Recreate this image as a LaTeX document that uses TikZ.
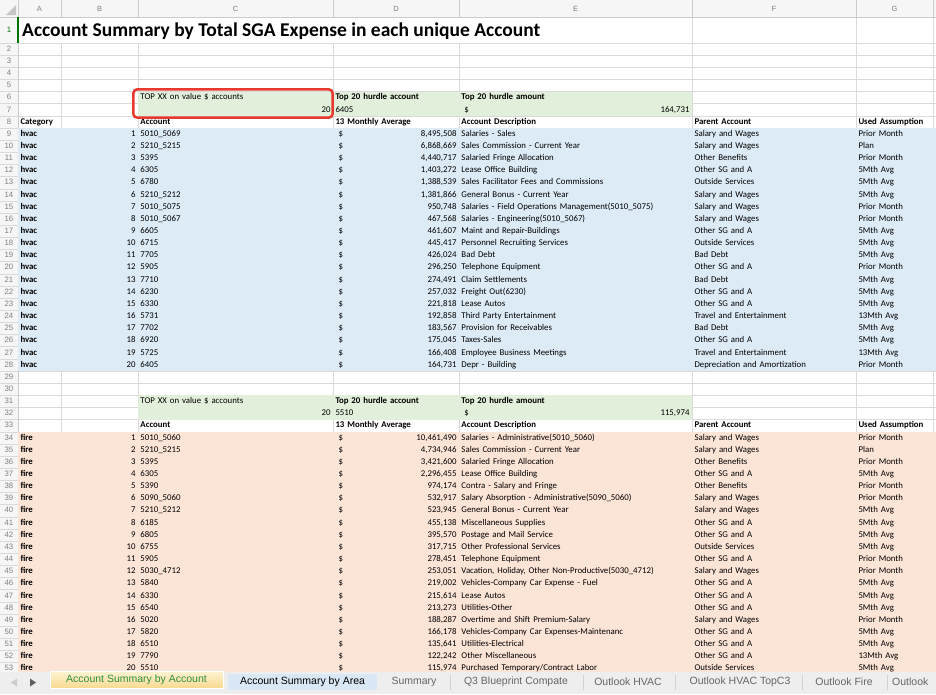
\documentclass[tikz,border=0pt]{standalone}
\usepackage{fontspec}
\setmainfont{Carlito}
\newfontfamily\uifont{Liberation Sans}
\usetikzlibrary{matrix,backgrounds}

\definecolor{hvacblue}{HTML}{DDEBF7}
\definecolor{firerose}{HTML}{FCE4D6}
\definecolor{hurdlegreen}{HTML}{E2EFDA}
\definecolor{gridgray}{HTML}{DADADA}
\definecolor{headgray}{HTML}{F6F6F6}
\definecolor{markred}{HTML}{E8392E}
\definecolor{tabbar}{HTML}{EEEEEE}
\definecolor{tabblue}{HTML}{DAE7F4}
\definecolor{tabgreen}{HTML}{2F8F3F}
\definecolor{tabgoldtop}{HTML}{FDF3D2}
\definecolor{tabgoldbot}{HTML}{F8D88E}

\newcommand{\cellfont}{\fontsize{8.8}{10}\selectfont}
\newcommand{\amt}[1]{\hspace*{3pt}\$\hskip 0pt plus 1filll #1}

\tikzset{
  cell/.style={rectangle, inner xsep=2.5pt, inner ysep=0pt, outer sep=0pt,
    minimum height=12.15pt, text height=6.2pt, text depth=1.8pt, align=left, font=\cellfont},
  gridline/.style={draw=gridgray, line width=0.6pt},
  rownum/.style={font=\uifont\fontsize{7.8}{9}\selectfont, text=gray, inner sep=0pt,
    text height=6.2pt, text depth=1.8pt},
  colhead/.style={font=\uifont\fontsize{7.5}{9}\selectfont, text=gray, inner sep=0pt},
  tabname/.style={font=\uifont\fontsize{10.5}{12}\selectfont, text=gray!80!black, inner sep=0pt},
  tabcur/.style={tabname, minimum width=173pt, minimum height=17pt, top color=tabgoldtop,
    bottom color=tabgoldbot, draw=white, text=tabgreen},
  tabopen/.style={tabname, minimum width=149pt, minimum height=16pt, fill=tabblue, text=black},
}

\def\Sheet{
    \matrix (sheet)
    [matrix of nodes,
    nodes in empty cells,
    ampersand replacement=\&,
    column sep=0pt,
    row sep=0pt,
    inner sep=0pt, outer sep=0pt,
    anchor=north west,
    nodes={cell},
    column 1/.style={nodes={text width=38pt, font=\cellfont\bfseries}},
    column 2/.style={nodes={text width=72pt, align=right}},
    column 3/.style={nodes={text width=190pt}},
    column 4/.style={nodes={text width=121pt}},
    column 5/.style={nodes={text width=228pt}},
    column 6/.style={nodes={text width=159pt}},
    column 7/.style={nodes={text width=72pt}},
    row 1/.style={nodes={minimum height=26pt}},
    row 8/.style={nodes={font=\cellfont\bfseries}},
    row 33/.style={nodes={font=\cellfont\bfseries}}]
    at (18pt,-17pt)
    {
     \& \& \& \& \& \& \\
     \& \& \& \& \& \& \\
     \& \& \& \& \& \& \\
     \& \& \& \& \& \& \\
     \& \& \& \& \& \& \\
     \& \& TOP XX on value \$ accounts \& \textbf{Top 20 hurdle account} \& \textbf{Top 20 hurdle amount} \& \& \\
     \& \& |[align=right]| 20 \& 6405 \& \amt{164,731} \& \& \\
     Category \& \& Account \& 13 Monthly Average \& Account Description \& Parent Account \& Used Assumption \\
     hvac \& 1 \& 5010\_5069 \& \amt{8,495,508} \& Salaries - Sales \& Salary and Wages \& Prior Month \\
     hvac \& 2 \& 5210\_5215 \& \amt{6,868,669} \& Sales Commission - Current Year \& Salary and Wages \& Plan \\
     hvac \& 3 \& 5395 \& \amt{4,440,717} \& Salaried Fringe Allocation \& Other Benefits \& Prior Month \\
     hvac \& 4 \& 6305 \& \amt{1,403,272} \& Lease Office Building \& Other SG and A \& 5Mth Avg \\
     hvac \& 5 \& 6780 \& \amt{1,388,539} \& Sales Facilitator Fees and Commissions \& Outside Services \& 5Mth Avg \\
     hvac \& 6 \& 5210\_5212 \& \amt{1,381,866} \& General Bonus - Current Year \& Salary and Wages \& 5Mth Avg \\
     hvac \& 7 \& 5010\_5075 \& \amt{950,748} \& Salaries - Field Operations Management(5010\_5075) \& Salary and Wages \& Prior Month \\
     hvac \& 8 \& 5010\_5067 \& \amt{467,568} \& Salaries - Engineering(5010\_5067) \& Salary and Wages \& Prior Month \\
     hvac \& 9 \& 6605 \& \amt{461,607} \& Maint and Repair-Buildings \& Other SG and A \& 5Mth Avg \\
     hvac \& 10 \& 6715 \& \amt{445,417} \& Personnel Recruiting Services \& Outside Services \& 5Mth Avg \\
     hvac \& 11 \& 7705 \& \amt{426,024} \& Bad Debt \& Bad Debt \& 5Mth Avg \\
     hvac \& 12 \& 5905 \& \amt{296,250} \& Telephone Equipment \& Other SG and A \& Prior Month \\
     hvac \& 13 \& 7710 \& \amt{274,491} \& Claim Settlements \& Bad Debt \& 5Mth Avg \\
     hvac \& 14 \& 6230 \& \amt{257,032} \& Freight Out(6230) \& Other SG and A \& 5Mth Avg \\
     hvac \& 15 \& 6330 \& \amt{221,818} \& Lease Autos \& Other SG and A \& 5Mth Avg \\
     hvac \& 16 \& 5731 \& \amt{192,858} \& Third Party Entertainment \& Travel and Entertainment \& 13Mth Avg \\
     hvac \& 17 \& 7702 \& \amt{183,567} \& Provision for Receivables \& Bad Debt \& 5Mth Avg \\
     hvac \& 18 \& 6920 \& \amt{175,045} \& Taxes-Sales \& Other SG and A \& 5Mth Avg \\
     hvac \& 19 \& 5725 \& \amt{166,408} \& Employee Business Meetings \& Travel and Entertainment \& 13Mth Avg \\
     hvac \& 20 \& 6405 \& \amt{164,731} \& Depr - Building \& Depreciation and Amortization \& Prior Month \\
     \& \& \& \& \& \& \\
     \& \& \& \& \& \& \\
     \& \& TOP XX on value \$ accounts \& \textbf{Top 20 hurdle account} \& \textbf{Top 20 hurdle amount} \& \& \\
     \& \& |[align=right]| 20 \& 5510 \& \amt{115,974} \& \& \\
     \& \& Account \& 13 Monthly Average \& Account Description \& Parent Account \& Used Assumption \\
     fire \& 1 \& 5010\_5060 \& \amt{10,461,490} \& Salaries - Administrative(5010\_5060) \& Salary and Wages \& Prior Month \\
     fire \& 2 \& 5210\_5215 \& \amt{4,734,946} \& Sales Commission - Current Year \& Salary and Wages \& Plan \\
     fire \& 3 \& 5395 \& \amt{3,421,600} \& Salaried Fringe Allocation \& Other Benefits \& Prior Month \\
     fire \& 4 \& 6305 \& \amt{2,296,455} \& Lease Office Building \& Other SG and A \& 5Mth Avg \\
     fire \& 5 \& 5390 \& \amt{974,174} \& Contra - Salary and Fringe \& Other Benefits \& Prior Month \\
     fire \& 6 \& 5090\_5060 \& \amt{532,917} \& Salary Absorption - Administrative(5090\_5060) \& Salary and Wages \& Prior Month \\
     fire \& 7 \& 5210\_5212 \& \amt{523,945} \& General Bonus - Current Year \& Salary and Wages \& 5Mth Avg \\
     fire \& 8 \& 6185 \& \amt{455,138} \& Miscellaneous Supplies \& Other SG and A \& 5Mth Avg \\
     fire \& 9 \& 6805 \& \amt{395,570} \& Postage and Mail Service \& Other SG and A \& 5Mth Avg \\
     fire \& 10 \& 6755 \& \amt{317,715} \& Other Professional Services \& Outside Services \& 5Mth Avg \\
     fire \& 11 \& 5905 \& \amt{278,451} \& Telephone Equipment \& Other SG and A \& Prior Month \\
     fire \& 12 \& 5030\_4712 \& \amt{253,051} \& Vacation, Holiday, Other Non-Productive(5030\_4712) \& Salary and Wages \& Prior Month \\
     fire \& 13 \& 5840 \& \amt{219,002} \& Vehicles-Company Car Expense - Fuel \& Other SG and A \& 5Mth Avg \\
     fire \& 14 \& 6330 \& \amt{215,614} \& Lease Autos \& Other SG and A \& 5Mth Avg \\
     fire \& 15 \& 6540 \& \amt{213,273} \& Utilities-Other \& Other SG and A \& 5Mth Avg \\
     fire \& 16 \& 5020 \& \amt{188,287} \& Overtime and Shift Premium-Salary \& Salary and Wages \& Prior Month \\
     fire \& 17 \& 5820 \& \amt{166,178} \& Vehicles-Company Car Expenses-Maintenanc \& Other SG and A \& 5Mth Avg \\
     fire \& 18 \& 6510 \& \amt{135,641} \& Utilities-Electrical \& Other SG and A \& 5Mth Avg \\
     fire \& 19 \& 7790 \& \amt{122,242} \& Other Miscellaneous \& Other SG and A \& 13Mth Avg \\
     fire \& 20 \& 5510 \& \amt{115,974} \& Purchased Temporary/Contract Labor \& Outside Services \& 5Mth Avg \\
    };
}

\begin{document}
\begin{tikzpicture}
    \useasboundingbox (0,0) rectangle (936pt,-694pt);
    \Sheet
    \node[anchor=base west, inner sep=0pt, font=\fontsize{19.5}{22}\selectfont\bfseries] (heading)
      at ([shift={(4pt,7pt)}]sheet-1-1.south west) {Account Summary by Total SGA Expense in each unique Account};

    \begin{scope}[on background layer]
      \fill[headgray] (0,0) rectangle (936pt,-17pt);
      \fill[headgray] (0,-17pt) rectangle (sheet-53-1.south west);
      \foreach \r in {1,...,53}
        \draw[gridline] ([xshift=-18pt]sheet-\r-1.south west) -- ([xshift=3pt]sheet-\r-7.south east);
      \foreach \c in {1,...,7}
        \draw[gridline] (sheet-2-\c.north east) -- (sheet-53-\c.south east);
      \foreach \c in {5,6,7}
        \draw[gridline] (sheet-1-\c.north east) -- (sheet-1-\c.south east);
      \foreach \c in {1,...,7}
        \draw[gray!40] ([yshift=17pt]sheet-1-\c.north east) -- (sheet-1-\c.north east);
      \draw[gray!40] (0,-17pt) -- (936pt,-17pt);
      \draw[gray!40] ([yshift=17pt]sheet-1-1.north west) -- (sheet-53-1.south west);
      \fill[hurdlegreen] (sheet-6-3.north west) rectangle (sheet-7-5.south east);
      \fill[hurdlegreen] (sheet-31-3.north west) rectangle (sheet-32-5.south east);
      \fill[hvacblue] (sheet-9-1.north west) rectangle ([xshift=3pt]sheet-28-7.south east);
      \fill[firerose] (sheet-34-1.north west) rectangle ([xshift=3pt]sheet-53-7.south east);
    \end{scope}

    \fill[gray!45] (6pt,-15pt) -- (16pt,-15pt) -- (16pt,-5pt) -- cycle;
    \foreach \c/\l in {1/A,2/B,3/C,4/D,5/E,6/F,7/G}
      \node[colhead] (col-\l) at ([yshift=8.5pt]sheet-1-\c.north) {\l};
    \foreach \r in {2,...,53}
      \node[rownum] (num-\r) at ([xshift=-9pt]sheet-\r-1.west) {\r};
    \node[rownum, text=green!45!black] (num-1) at ([xshift=-9pt]sheet-1-1.west) {1};
    \draw[green!45!black, line width=1.5pt] (sheet-1-1.north west) -- (sheet-1-1.south west);

    \draw[markred, line width=2.5pt, rounded corners=4pt]
      ([shift={(-4.7pt,2.3pt)}]sheet-6-3.north west) rectangle ([shift={(-0.3pt,-1.8pt)}]sheet-7-3.south east);

    % sheet tabs
    \fill[tabbar] (0,-672pt) rectangle (936pt,-694pt);
    \fill[gray!40] (11pt,-682.5pt) -- (17pt,-678.5pt) -- (17pt,-686.5pt) -- cycle;
    \fill[gray!75!black] (36pt,-682.5pt) -- (30pt,-678.5pt) -- (30pt,-686.5pt) -- cycle;
    \node[tabcur] (tab-account) at (136.5pt,-680pt) {Account Summary by Account};
    \node[tabopen] (tab-area) at (302.5pt,-682pt) {Account Summary by Area};
    \node[tabname] (tab-summary) at (414pt,-682pt) {Summary};
    \node[tabname] (tab-q3) at (516pt,-682pt) {Q3 Blueprint Compate};
    \node[tabname] (tab-hvac) at (628pt,-682pt) {Outlook HVAC};
    \node[tabname] (tab-topc3) at (740pt,-682pt) {Outlook HVAC TopC3};
    \node[tabname] (tab-fire) at (844pt,-682pt) {Outlook Fire};
    \node[tabname, anchor=west] (tab-more) at (892pt,-682pt) {Outlook};
    \foreach \x in {450,583,675,802,887}
      \draw[gray!35] (\x pt,-675pt) -- (\x pt,-690pt);
\end{tikzpicture}
\end{document}
